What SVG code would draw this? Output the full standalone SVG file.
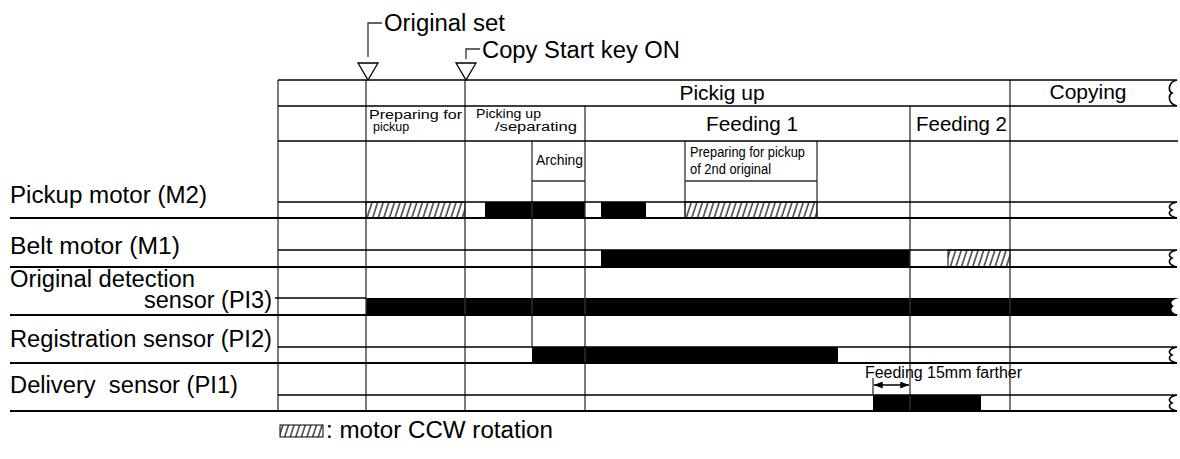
<svg xmlns="http://www.w3.org/2000/svg" width="1180" height="459" viewBox="0 0 1180 459">
<style>
text{font-family:"Liberation Sans",Arial,sans-serif;fill:#000;white-space:pre}
.lbl{font-size:23.5px}
.hdr{font-size:21px}
.sm{font-size:14px}
.xs{font-size:12.5px}
.v{stroke:#333;stroke-width:1.3;fill:none}
.h{stroke:#000;stroke-width:1.6;fill:none}
.hs{stroke:#000;stroke-width:2;fill:none}
.blk{fill:#000}
.hat{fill:url(#hatch);stroke:#000;stroke-width:1}
.tri{fill:#fff;stroke:#000;stroke-width:1.3}
</style>
<defs>
<pattern id="hatch" patternUnits="userSpaceOnUse" width="5.6" height="6" patternTransform="skewX(-18)">
<rect width="5.6" height="6" fill="#fff"/>
<line x1="1" y1="-1" x2="1" y2="7" stroke="#000" stroke-width="1.2"/>
</pattern>
<marker id="ah" viewBox="0 0 10 8" refX="10" refY="4" markerWidth="9" markerHeight="7" orient="auto-start-reverse" markerUnits="userSpaceOnUse">
<path d="M0,0 L10,4 L0,8 z" fill="#000"/>
</marker>
</defs>
<rect width="1180" height="459" fill="#fff"/>

<g id="events">
<g id="original-set">
<polyline class="v" points="368,57 368,23 382,23"/>
<polygon class="tri" points="358,63 378,63 368,80"/>
<text class="lbl" x="384" y="31" textLength="121" lengthAdjust="spacingAndGlyphs">Original set</text>
</g>
<g id="copy-start">
<polyline class="v" points="466,59 466,49 480,49"/>
<polygon class="tri" points="456,63 476,63 466,80"/>
<text class="lbl" x="482" y="58" textLength="198" lengthAdjust="spacingAndGlyphs">Copy Start key ON</text>
</g>
</g>

<g id="bars">
<rect class="hat" x="366" y="202" width="99" height="16"/>
<rect class="blk" x="485" y="202" width="100" height="16"/>
<rect class="blk" x="601" y="202" width="45" height="16"/>
<rect class="hat" x="685" y="202" width="132" height="16"/>
<rect class="blk" x="601" y="250" width="309" height="17"/>
<rect class="hat" x="948" y="250" width="62" height="17"/>
<path class="blk" d="M366,298 L1179,298 C1170,300 1170,304 1174,306 C1170,308 1170,313 1179,315 L366,315 Z"/>
<rect class="blk" x="532" y="347" width="306" height="16"/>
<rect class="blk" x="873" y="395" width="108" height="16"/>
</g>

<g id="connectors">
<line class="v" x1="278" y1="80" x2="278" y2="411"/>
<line class="v" x1="366" y1="80" x2="366" y2="411"/>
<line class="v" x1="465" y1="80" x2="465" y2="411"/>
<line class="v" x1="532" y1="141" x2="532" y2="347"/>
<line class="v" x1="585" y1="106" x2="585" y2="411"/>
<line class="v" x1="685" y1="141" x2="685" y2="218"/>
<line class="v" x1="817" y1="141" x2="817" y2="218"/>
<line class="v" x1="910" y1="106" x2="910" y2="411"/>
<line class="v" x1="1010" y1="80" x2="1010" y2="411"/>
<path class="h" d="M278,80 L1177,80 C1168,82 1168,91 1172,93 C1168,95 1168,104 1177,106 L278,106"/>
<line class="h" x1="278" y1="141" x2="1178" y2="141"/>
<line class="v" x1="532" y1="181" x2="585" y2="181"/>
<line class="v" x1="685" y1="181" x2="817" y2="181"/>
<path class="h" d="M278,202 L1177,202 C1168,204 1168,208 1172,210 C1168,212 1168,216 1177,218"/>
<line class="hs" x1="10" y1="218" x2="1177" y2="218"/>
<path class="h" d="M278,250 L1177,250 C1168,252 1168,256 1172,258 C1168,260 1168,265 1177,267"/>
<line class="hs" x1="10" y1="267" x2="1177" y2="267"/>
<line class="h" x1="275" y1="298" x2="366" y2="298"/>
<line class="hs" x1="10" y1="315" x2="1177" y2="315"/>
<path class="h" d="M278,347 L1177,347 C1168,349 1168,353 1172,355 C1168,357 1168,361 1177,363"/>
<line class="hs" x1="10" y1="363" x2="1177" y2="363"/>
<path class="h" d="M278,395 L1177,395 C1168,397 1168,401 1172,403 C1168,405 1168,409 1177,411"/>
<line class="hs" x1="10" y1="411" x2="1177" y2="411"/>
<line class="v" x1="873" y1="378" x2="873" y2="395"/>
<line x1="874" y1="385" x2="909" y2="385" stroke="#000" stroke-width="1.3" marker-start="url(#ah)" marker-end="url(#ah)"/>
</g>

<g id="phase-labels">
<text class="hdr" x="722" y="100" text-anchor="middle">Pickig up</text>
<text class="hdr" x="1088" y="99" text-anchor="middle">Copying</text>
<text class="hdr" x="752" y="131" text-anchor="middle" textLength="92" lengthAdjust="spacingAndGlyphs">Feeding 1</text>
<text class="hdr" x="916" y="131" textLength="91" lengthAdjust="spacingAndGlyphs">Feeding 2</text>
<text class="xs" x="369" y="119" textLength="93" lengthAdjust="spacingAndGlyphs">Preparing for</text>
<text class="xs" x="373" y="131">pickup</text>
<text class="xs" x="476" y="118" textLength="65" lengthAdjust="spacingAndGlyphs">Picking up</text>
<text class="xs" x="495" y="131" textLength="82" lengthAdjust="spacingAndGlyphs">/separating</text>
<text class="sm" x="536" y="165" textLength="47" lengthAdjust="spacingAndGlyphs">Arching</text>
<text class="sm" x="690" y="157" textLength="115" lengthAdjust="spacingAndGlyphs">Preparing for pickup</text>
<text class="sm" x="690" y="174" textLength="81" lengthAdjust="spacingAndGlyphs">of 2nd original</text>
<text x="865" y="378" style="font-size:16px" textLength="157" lengthAdjust="spacingAndGlyphs">Feeding 15mm farther</text>
</g>

<g id="signal-labels">
<text class="lbl" x="10" y="203" textLength="197" lengthAdjust="spacingAndGlyphs">Pickup motor (M2)</text>
<text class="lbl" x="10" y="254" textLength="170" lengthAdjust="spacingAndGlyphs">Belt motor (M1)</text>
<text class="lbl" x="10" y="287" textLength="185" lengthAdjust="spacingAndGlyphs">Original detection</text>
<text class="lbl" x="272" y="308" text-anchor="end">sensor (PI3)</text>
<text class="lbl" x="10" y="347" textLength="262" lengthAdjust="spacingAndGlyphs">Registration sensor (PI2)</text>
<text class="lbl" x="10" y="393" textLength="228" lengthAdjust="spacingAndGlyphs">Delivery  sensor (PI1)</text>
</g>

<g id="legend">
<rect class="hat" x="280" y="425" width="43" height="12"/>
<text class="lbl" x="326" y="438" textLength="227" lengthAdjust="spacingAndGlyphs">: motor CCW rotation</text>
</g>
</svg>
